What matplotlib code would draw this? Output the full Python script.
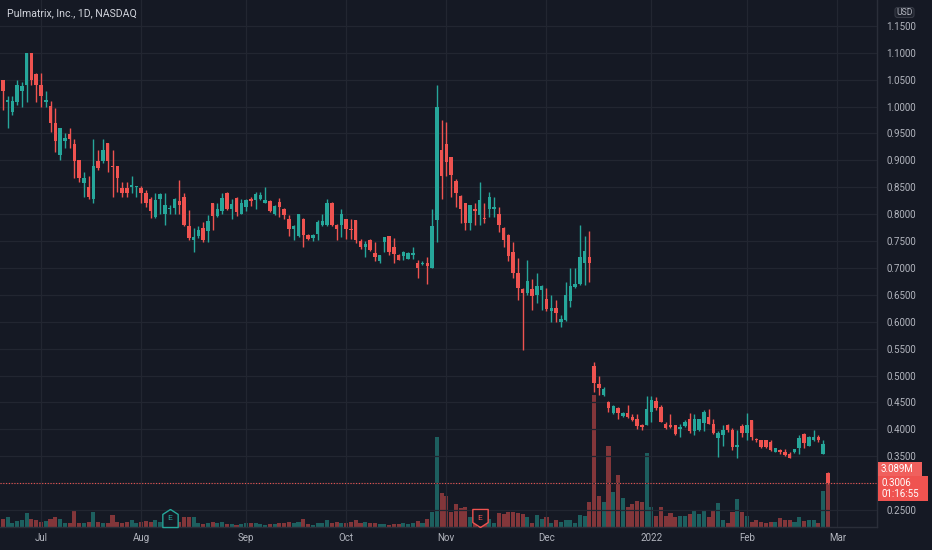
import numpy as np
import pandas as pd
import matplotlib
matplotlib.use("Agg")
import matplotlib.pyplot as plt
from matplotlib.patches import Rectangle, FancyBboxPatch
from matplotlib.transforms import blended_transform_factory

# PULM daily bars, 2021-06-21 .. 2022-02-25
holidays = ["2021-07-05", "2021-09-06", "2021-11-25", "2021-12-24", "2022-01-17", "2022-02-21"]
dates = pd.bdate_range("2021-06-21", "2022-02-25", freq="C", holidays=holidays)
axis_dates = pd.bdate_range("2021-06-21", "2022-03-01", freq="C", holidays=holidays)

opens = [1.049, 1.008, 0.989, 1.009, 1.029, 1.040, 1.100, 1.060, 1.040, 1.008,
         1.001, 0.970, 0.910, 0.935, 0.949, 0.930, 0.901, 0.858, 0.851, 0.829,
         0.899, 0.899, 0.933, 0.890, 0.889, 0.849, 0.849, 0.851, 0.850, 0.849,
         0.840, 0.829, 0.794, 0.829, 0.801, 0.810, 0.811, 0.825, 0.832, 0.777,
         0.752, 0.759, 0.775, 0.769, 0.820, 0.796, 0.805, 0.840, 0.809, 0.830,
         0.801, 0.814, 0.829, 0.826, 0.828, 0.820, 0.825, 0.800, 0.822, 0.809,
         0.790, 0.772, 0.759, 0.790, 0.761, 0.756, 0.763, 0.780, 0.779, 0.821,
         0.780, 0.779, 0.790, 0.773, 0.789, 0.750, 0.738, 0.751, 0.727, 0.712,
         0.749, 0.759, 0.738, 0.724, 0.722, 0.717, 0.724, 0.710, 0.707, 0.710,
         0.699, 0.789, 0.919, 0.930, 0.906, 0.862, 0.834, 0.820, 0.783, 0.809,
         0.798, 0.793, 0.809, 0.810, 0.800, 0.774, 0.761, 0.730, 0.690, 0.660,
         0.653, 0.660, 0.650, 0.659, 0.642, 0.619, 0.626, 0.600, 0.603, 0.639,
         0.664, 0.670, 0.710, 0.720, 0.518, 0.484, 0.464, 0.451, 0.430, 0.439,
         0.424, 0.430, 0.423, 0.419, 0.408, 0.408, 0.433, 0.453, 0.442, 0.410,
         0.408, 0.408, 0.400, 0.406, 0.420, 0.396, 0.399, 0.411, 0.422, 0.410,
         0.383, 0.389, 0.408, 0.399, 0.367, 0.406, 0.393, 0.417, 0.381, 0.380,
         0.380, 0.377, 0.358, 0.362, 0.358, 0.355, 0.357, 0.365, 0.391, 0.369,
         0.380, 0.386, 0.355, 0.319]
highs = [1.050, 1.020, 1.020, 1.049, 1.046, 1.100, 1.100, 1.062, 1.062, 1.028,
         1.010, 0.997, 0.960, 0.951, 0.960, 0.939, 0.901, 0.879, 0.870, 0.939,
         0.919, 0.939, 0.933, 0.919, 0.889, 0.860, 0.860, 0.871, 0.852, 0.852,
         0.845, 0.831, 0.840, 0.839, 0.839, 0.817, 0.830, 0.863, 0.839, 0.808,
         0.774, 0.777, 0.786, 0.798, 0.821, 0.820, 0.839, 0.841, 0.829, 0.831,
         0.829, 0.829, 0.831, 0.841, 0.841, 0.851, 0.827, 0.817, 0.830, 0.811,
         0.798, 0.779, 0.801, 0.792, 0.763, 0.763, 0.789, 0.801, 0.829, 0.823,
         0.782, 0.809, 0.790, 0.790, 0.789, 0.753, 0.750, 0.754, 0.749, 0.724,
         0.757, 0.759, 0.755, 0.725, 0.731, 0.729, 0.738, 0.715, 0.712, 0.720,
         0.809, 1.040, 0.975, 0.972, 0.906, 0.865, 0.836, 0.820, 0.817, 0.820,
         0.860, 0.820, 0.842, 0.832, 0.814, 0.776, 0.763, 0.749, 0.719, 0.662,
         0.715, 0.679, 0.691, 0.668, 0.662, 0.650, 0.640, 0.613, 0.673, 0.699,
         0.699, 0.780, 0.759, 0.769, 0.526, 0.499, 0.479, 0.453, 0.446, 0.441,
         0.432, 0.445, 0.428, 0.428, 0.410, 0.461, 0.461, 0.460, 0.445, 0.414,
         0.428, 0.408, 0.410, 0.418, 0.430, 0.428, 0.420, 0.436, 0.437, 0.419,
         0.397, 0.408, 0.410, 0.402, 0.399, 0.409, 0.430, 0.417, 0.384, 0.381,
         0.380, 0.380, 0.366, 0.364, 0.364, 0.358, 0.364, 0.389, 0.393, 0.388,
         0.399, 0.390, 0.380, 0.320]
lows = [0.994, 0.960, 0.984, 1.003, 1.000, 1.009, 1.040, 1.009, 1.000, 1.000,
        0.953, 0.916, 0.901, 0.922, 0.922, 0.867, 0.860, 0.832, 0.829, 0.821,
        0.882, 0.895, 0.879, 0.832, 0.842, 0.832, 0.832, 0.840, 0.832, 0.820,
        0.814, 0.792, 0.792, 0.801, 0.780, 0.800, 0.801, 0.801, 0.777, 0.752,
        0.730, 0.755, 0.749, 0.749, 0.770, 0.795, 0.801, 0.808, 0.790, 0.796,
        0.800, 0.805, 0.815, 0.809, 0.826, 0.820, 0.803, 0.798, 0.795, 0.790,
        0.759, 0.752, 0.758, 0.739, 0.752, 0.750, 0.752, 0.778, 0.777, 0.777,
        0.752, 0.758, 0.753, 0.753, 0.746, 0.736, 0.721, 0.731, 0.712, 0.709,
        0.730, 0.724, 0.710, 0.714, 0.714, 0.716, 0.716, 0.681, 0.705, 0.670,
        0.699, 0.749, 0.829, 0.870, 0.832, 0.814, 0.783, 0.770, 0.770, 0.780,
        0.780, 0.783, 0.795, 0.795, 0.767, 0.739, 0.712, 0.681, 0.640, 0.547,
        0.650, 0.622, 0.634, 0.622, 0.619, 0.600, 0.600, 0.591, 0.602, 0.628,
        0.662, 0.668, 0.668, 0.673, 0.470, 0.464, 0.461, 0.433, 0.429, 0.420,
        0.423, 0.421, 0.415, 0.400, 0.399, 0.408, 0.414, 0.436, 0.413, 0.401,
        0.402, 0.390, 0.385, 0.404, 0.394, 0.389, 0.397, 0.396, 0.409, 0.392,
        0.349, 0.369, 0.395, 0.362, 0.346, 0.385, 0.380, 0.380, 0.376, 0.366,
        0.366, 0.360, 0.357, 0.354, 0.351, 0.346, 0.356, 0.355, 0.365, 0.369,
        0.378, 0.377, 0.354, 0.298]
closes = [1.029, 1.012, 1.010, 1.040, 1.038, 1.100, 1.049, 1.040, 1.020, 1.012,
          0.969, 0.935, 0.960, 0.942, 0.939, 0.899, 0.867, 0.868, 0.832, 0.889,
          0.885, 0.919, 0.898, 0.888, 0.867, 0.840, 0.840, 0.854, 0.852, 0.840,
          0.820, 0.805, 0.826, 0.837, 0.817, 0.812, 0.828, 0.817, 0.780, 0.755,
          0.758, 0.770, 0.751, 0.787, 0.796, 0.810, 0.830, 0.809, 0.818, 0.803,
          0.820, 0.826, 0.825, 0.837, 0.836, 0.827, 0.806, 0.815, 0.813, 0.798,
          0.772, 0.778, 0.800, 0.761, 0.753, 0.761, 0.786, 0.787, 0.821, 0.779,
          0.772, 0.800, 0.772, 0.771, 0.752, 0.738, 0.744, 0.733, 0.720, 0.724,
          0.757, 0.730, 0.725, 0.715, 0.729, 0.728, 0.727, 0.699, 0.710, 0.703,
          0.778, 1.000, 0.870, 0.896, 0.873, 0.840, 0.809, 0.783, 0.817, 0.805,
          0.826, 0.790, 0.832, 0.814, 0.780, 0.752, 0.722, 0.690, 0.662, 0.653,
          0.676, 0.648, 0.666, 0.666, 0.623, 0.626, 0.616, 0.605, 0.650, 0.666,
          0.670, 0.720, 0.732, 0.709, 0.486, 0.476, 0.474, 0.439, 0.444, 0.430,
          0.430, 0.422, 0.417, 0.406, 0.404, 0.437, 0.455, 0.439, 0.414, 0.402,
          0.404, 0.391, 0.405, 0.414, 0.396, 0.419, 0.419, 0.433, 0.410, 0.393,
          0.393, 0.399, 0.399, 0.368, 0.371, 0.394, 0.408, 0.386, 0.380, 0.367,
          0.367, 0.362, 0.365, 0.358, 0.352, 0.346, 0.363, 0.383, 0.374, 0.386,
          0.386, 0.380, 0.373, 0.3006]
# volume in millions of shares
volumes = [0.44, 0.59, 0.25, 0.36, 0.40, 0.78, 0.44, 0.40, 0.30, 0.34,
           0.44, 0.55, 0.44, 0.21, 0.21, 0.97, 0.25, 0.25, 0.30, 0.83,
           0.30, 0.21, 0.21, 0.68, 0.30, 0.25, 0.30, 0.40, 0.25, 0.30,
           0.34, 0.30, 0.40, 0.30, 0.40, 0.21, 0.21, 0.30, 0.55, 0.55,
           0.55, 0.21, 0.17, 0.25, 0.30, 0.21, 0.30, 0.17, 0.17, 0.11,
           0.17, 0.21, 0.21, 0.21, 0.17, 0.11, 0.17, 0.17, 0.21, 0.25,
           0.30, 0.25, 0.30, 0.44, 0.17, 0.11, 0.25, 0.25, 0.40, 0.25,
           0.30, 0.25, 0.25, 0.30, 0.40, 0.25, 0.30, 0.25, 0.25, 0.17,
           0.17, 0.11, 0.17, 0.17, 0.21, 0.17, 0.21, 0.34, 0.25, 0.44,
           0.87, 5.10, 1.92, 1.74, 0.87, 1.31, 1.06, 1.12, 0.59, 0.40,
           0.78, 0.49, 0.44, 0.21, 0.78, 0.74, 0.87, 0.87, 0.78, 0.74,
           0.55, 0.25, 0.68, 0.44, 0.55, 0.25, 0.40, 0.30, 0.40, 0.40,
           0.25, 0.68, 0.64, 1.40, 7.51, 1.78, 1.40, 4.61, 1.97, 2.96,
           1.67, 1.16, 1.31, 1.48, 1.44, 4.23, 1.16, 0.64, 1.16, 0.64,
           0.78, 0.59, 0.64, 0.64, 0.74, 0.97, 0.74, 0.97, 0.55, 0.97,
           1.38, 0.40, 0.25, 0.84, 1.58, 0.84, 0.64, 0.30, 0.40, 0.30,
           0.21, 0.30, 0.30, 0.49, 0.40, 0.40, 0.27, 0.59, 0.34, 0.40,
           0.40, 0.21, 2.05, 3.089]
# earnings flags: (bar index, beat?)
earnings = [(35, True), (100, False)]
countdown = "01:16:55"

n = len(dates)
assert len(opens) == len(highs) == len(lows) == len(closes) == len(volumes) == n

BG = "#151924"
GRID = "#222631"
TXT = "#b2b5be"
UP = "#26a69a"
DOWN = "#ef5350"

plt.rcParams['font.family'] = ['Roboto', 'DejaVu Sans']

fig = plt.figure(figsize=(9.32, 5.5), dpi=100, facecolor=BG)
ax = fig.add_axes([0, 23 / 550, 877 / 932, 527 / 550])
vax = ax.twinx()
ax.set_zorder(vax.get_zorder() + 1)
ax.patch.set_visible(False)
vax.patch.set_facecolor(BG)

x = np.arange(n)
o = np.array(opens); h = np.array(highs); l = np.array(lows); c = np.array(closes)
up = c >= o
col = np.where(up, UP, DOWN)

# volume under the candles
vax.bar(x, volumes, width=0.85, color=col, alpha=0.5, linewidth=0)
vax.set_ylim(0, 30)
vax.set_yticks([])
for s in vax.spines.values():
    s.set_visible(False)

# candles
ax.vlines(x, l, h, colors=col, linewidth=1.0, zorder=3)
body = np.maximum(np.abs(c - o), 0.002)
ax.bar(x, body, bottom=np.minimum(o, c), width=0.74, color=col, linewidth=0, zorder=4)

# last price line
ax.axhline(closes[-1], color=DOWN, linestyle=(0, (1, 1.5)), linewidth=0.8, zorder=2)

# axes
ax.set_xlim(-0.59, 183.3)
ax.set_ylim(0.2184, 1.198)

tick_pos, tick_lab = [], []
for k in range(1, len(axis_dates)):
    if axis_dates[k].month != axis_dates[k - 1].month:
        tick_pos.append(k)
        tick_lab.append(str(axis_dates[k].year) if axis_dates[k].month == 1
                        else axis_dates[k].strftime("%b"))
ax.set_xticks(tick_pos)
ax.set_xticklabels(tick_lab)

yt = np.arange(0.25, 1.151, 0.05)
ax.set_yticks(yt)
# the 0.3000 label sits under the last-price tag, so it is left blank
ax.set_yticklabels(["" if abs(v - 0.30) < 1e-6 else f"{v:.4f}" for v in yt])
ax.yaxis.tick_right()
ax.tick_params(axis='y', length=0, pad=6.5, labelsize=7, colors=TXT)
ax.tick_params(axis='x', length=0, pad=4.5, labelsize=7, colors=TXT)
ax.grid(True, color=GRID, linewidth=0.9)
ax.set_axisbelow(True)
for k, s in ax.spines.items():
    s.set_visible(k in ("right", "bottom"))
    s.set_color("#2a2e39")
    s.set_linewidth(1.0)

# earnings badges
btr = blended_transform_factory(ax.transData, ax.transAxes)
up_shape = [(0, 1), (0.85, 0.45), (0.85, -1), (-0.85, -1), (-0.85, 0.45), (0, 1)]
dn_shape = [(0, -1), (0.85, -0.45), (0.85, 1), (-0.85, 1), (-0.85, -0.45), (0, -1)]
for idx, beat in earnings:
    ec = UP if beat else DOWN
    ax.plot([idx], [0.018], transform=btr, marker=up_shape if beat else dn_shape,
            markersize=13, mfc=BG, mec=ec, mew=1.0, zorder=6, clip_on=False)
    ax.text(idx, 0.018, "E", transform=btr, ha="center", va="center",
            fontsize=6, color=ec, zorder=7)

# overlay in pixel coordinates for labels
ov = fig.add_axes([0, 0, 1, 1], zorder=20)
ov.set_xlim(0, 932)
ov.set_ylim(550, 0)
ov.axis("off")

ov.text(7, 13.5, "Pulmatrix, Inc., 1D, NASDAQ", fontsize=7.6, color="#d1d4dc",
        ha="left", va="center")
ov.add_patch(FancyBboxPatch((895, 7.5), 19, 10, boxstyle="round,pad=0,rounding_size=2.5",
                            facecolor="#1e222d", edgecolor="#363a45", linewidth=0.8))
ov.text(904.5, 12.7, "USD", fontsize=6.2, color=TXT, ha="center", va="center")

yp = 550 - ax.transData.transform((0, closes[-1]))[1]
ov.add_patch(Rectangle((878, yp - 20.5), 44, 14, facecolor="#f0605d", edgecolor="none"))
ov.add_patch(Rectangle((878, yp - 6.5), 50, 25, facecolor=DOWN, edgecolor="none"))
ov.text(881, yp - 13.4, f"{volumes[-1]:.3f}M", fontsize=7, color="white", ha="left", va="center")
ov.text(881, yp, f"{closes[-1]:.4f}", fontsize=7, color="white", ha="left", va="center")
ov.text(881, yp + 11.7, countdown, fontsize=7, color="white", ha="left", va="center")

fig.savefig("out.png", dpi=100, facecolor=BG)
